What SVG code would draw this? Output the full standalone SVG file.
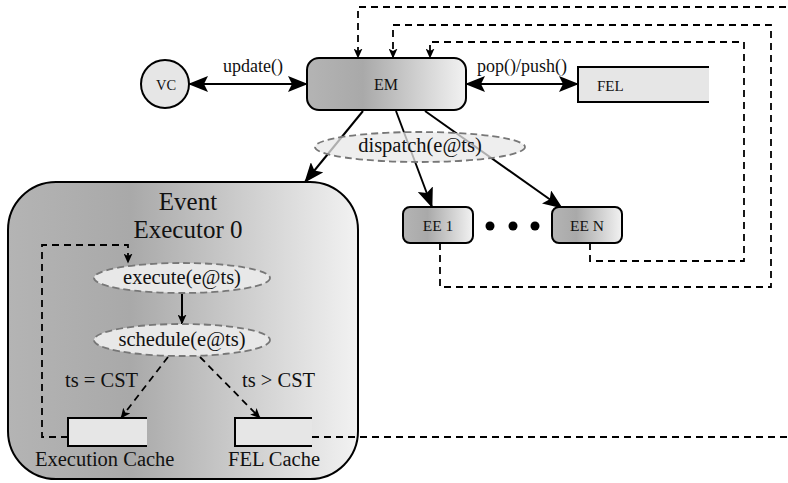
<svg xmlns="http://www.w3.org/2000/svg" width="788" height="483" viewBox="0 0 788 483">
  <defs>
    <linearGradient id="shade" x1="0" y1="0" x2="1" y2="0">
      <stop offset="0" stop-color="#b4b4b4"/>
      <stop offset="0.35" stop-color="#a9a9a9"/>
      <stop offset="1" stop-color="#f2f2f2"/>
    </linearGradient>
    <marker id="big" viewBox="0 0 20 16" markerWidth="20" markerHeight="16" refX="19" refY="8" orient="auto-start-reverse" markerUnits="userSpaceOnUse">
      <path d="M0,0 L20,8 L0,16 L4,8 Z" fill="#000"/>
    </marker>
    <marker id="small" viewBox="0 0 10 9" markerWidth="10" markerHeight="9" refX="9.5" refY="4.5" orient="auto" markerUnits="userSpaceOnUse">
      <path d="M0,0 L10,4.5 L0,9 L2.5,4.5 Z" fill="#000"/>
    </marker>
  </defs>
  <style>
    text { font-family: "Liberation Serif", "Times New Roman", serif; fill: #111; }
    .box { fill: url(#shade); stroke: #000; stroke-width: 2; }
    .buf { fill: #e6e6e6; stroke: none; }
    .bufedge { fill: none; stroke: #000; stroke-width: 2; }
    .op { fill: #e8e8e8; stroke: #777; stroke-width: 1.8; stroke-dasharray: 7 4; }
    .solid { fill: none; stroke: #000; stroke-width: 2; }
    .dash { fill: none; stroke: #000; stroke-width: 1.8; stroke-dasharray: 7 5; }
    .m { font-size: 20.5px; }
    .s { font-size: 18px; }
    .t { font-size: 15.5px; }
  </style>

  <!-- Event Executor 0 container -->
  <g id="ee0">
    <rect class="box" x="8" y="182" width="350" height="297" rx="48" ry="48"/>
    <text x="188" y="210" font-size="25" text-anchor="middle">Event</text>
    <text x="188" y="238" font-size="25" text-anchor="middle">Executor 0</text>
  </g>

  <!-- connectors -->
  <g id="connectors">
    <line class="solid" x1="189" y1="84" x2="307" y2="84" marker-start="url(#big)" marker-end="url(#big)"/>
    <line class="solid" x1="466" y1="84" x2="578" y2="84" marker-start="url(#big)" marker-end="url(#big)"/>
    <line class="solid" x1="363" y1="111" x2="305" y2="182" marker-end="url(#big)"/>
    <line class="solid" x1="396" y1="111" x2="432" y2="207" marker-end="url(#big)"/>
    <line class="solid" x1="425" y1="111" x2="562" y2="208" marker-end="url(#big)"/>
    <!-- feedback paths back to EM -->
    <path class="dash" d="M440,243 V287 H771 V25 H393 V58" marker-end="url(#small)"/>
    <path class="dash" d="M590,243 V261 H744 V42 H430 V58" marker-end="url(#small)"/>
    <path class="dash" d="M312,437 H796 V7 H358 V58" marker-end="url(#small)"/>
    <!-- internal flow of executor 0 -->
    <path class="dash" d="M68,437 H42 V245 H128 V263" marker-end="url(#small)"/>
    <line class="solid" x1="182" y1="294" x2="182" y2="324" marker-end="url(#small)"/>
    <line class="dash" x1="168" y1="357" x2="121" y2="418" marker-end="url(#small)"/>
    <line class="dash" x1="200" y1="357" x2="260" y2="418" marker-end="url(#small)"/>
  </g>

  <g id="vc">
    <circle cx="165" cy="84" r="24" fill="#e6e6e6" stroke="#000" stroke-width="2"/>
    <text x="166" y="90" font-size="14.5" text-anchor="middle">VC</text>
  </g>
  <text class="s" x="223" y="72">update()</text>

  <g id="em">
    <rect class="box" x="307" y="58" width="159" height="52" rx="12" ry="12"/>
    <text x="386" y="90" font-size="16" text-anchor="middle">EM</text>
  </g>
  <text class="s" x="477" y="72">pop()/push()</text>

  <g id="fel">
    <rect class="buf" x="578" y="67" width="131" height="35"/>
    <path class="bufedge" d="M709,67 H578 V102 H709"/>
    <text x="597" y="91" font-size="15">FEL</text>
  </g>

  <g id="dispatch">
    <ellipse class="op" cx="420" cy="147" rx="105" ry="15" fill-opacity="0.75"/>
    <text class="m" x="420" y="152" text-anchor="middle">dispatch(e@ts)</text>
  </g>

  <g id="ee1">
    <rect class="box" x="403" y="207" width="70" height="36" rx="7" ry="7"/>
    <text class="t" x="438" y="231" text-anchor="middle">EE 1</text>
  </g>

  <g id="dots">
    <circle cx="490" cy="226" r="4.5" fill="#000"/>
    <circle cx="513" cy="226" r="4.5" fill="#000"/>
    <circle cx="535" cy="226" r="4.5" fill="#000"/>
  </g>

  <g id="een">
    <rect class="box" x="552" y="207" width="70" height="36" rx="7" ry="7"/>
    <text class="t" x="587" y="231" text-anchor="middle">EE N</text>
  </g>

  <g id="execute">
    <ellipse class="op" cx="182" cy="278" rx="88" ry="15"/>
    <text class="m" x="182" y="284" text-anchor="middle">execute(e@ts)</text>
  </g>

  <g id="schedule">
    <ellipse class="op" cx="182" cy="340" rx="88" ry="16"/>
    <text class="m" x="182" y="346" text-anchor="middle">schedule(e@ts)</text>
  </g>

  <text class="m" x="65" y="387">ts = CST</text>
  <text class="m" x="242" y="387">ts &gt; CST</text>

  <g id="exec-cache">
    <rect class="buf" x="68" y="418" width="79" height="28"/>
    <path class="bufedge" d="M147,418 H68 V446 H147"/>
    <text class="m" x="35" y="466">Execution Cache</text>
  </g>

  <g id="fel-cache">
    <rect class="buf" x="235" y="418" width="77" height="28"/>
    <path class="bufedge" d="M312,418 H235 V446 H312"/>
    <text class="m" x="228" y="466">FEL Cache</text>
  </g>
</svg>
